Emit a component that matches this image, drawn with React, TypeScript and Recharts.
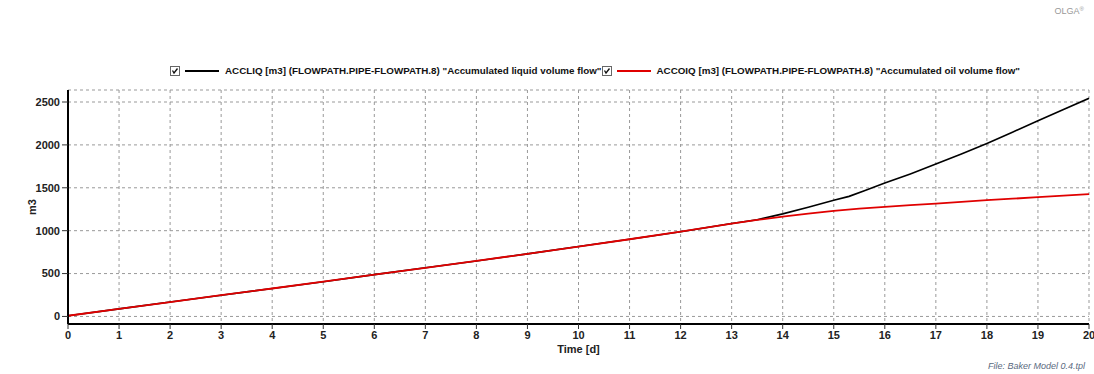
import React from "react";
import { LineChart, Line, XAxis, YAxis, CartesianGrid, Legend } from "recharts";

// time [d] and accumulated volumes [m3]
const liqTime = [0, 1, 2, 3, 4, 5, 6, 7, 8, 9, 10, 11, 12, 13, 13.5, 14, 14.5, 15, 15.3, 15.6, 16, 16.5, 17, 17.5, 18, 18.5, 19, 19.5, 20];
const liqVol = [8, 88, 168, 248, 326, 405, 488, 567, 647, 730, 815, 900, 988, 1083, 1128, 1196, 1274, 1355, 1400, 1465, 1555, 1662, 1776, 1893, 2017, 2148, 2282, 2412, 2543];

const oilTime = [0, 1, 2, 3, 4, 5, 6, 7, 8, 9, 10, 11, 12, 13, 13.5, 14, 14.5, 15, 15.5, 16, 16.5, 17, 17.5, 18, 18.5, 19, 19.5, 20];
const oilVol = [8, 88, 168, 248, 326, 405, 488, 567, 647, 730, 815, 900, 988, 1083, 1125, 1165, 1200, 1230, 1256, 1278, 1298, 1316, 1336, 1355, 1373, 1390, 1408, 1425];

const xTicks = [0, 1, 2, 3, 4, 5, 6, 7, 8, 9, 10, 11, 12, 13, 14, 15, 16, 17, 18, 19, 20];
const yTicks = [0, 500, 1000, 1500, 2000, 2500];

const seriesNames = [
    'ACCLIQ [m3] (FLOWPATH.PIPE-FLOWPATH.8) "Accumulated liquid volume flow"',
    'ACCOIQ [m3] (FLOWPATH.PIPE-FLOWPATH.8) "Accumulated oil volume flow"',
];
const seriesColors = ["#000000", "#e00000"];

const liqData = liqTime.map((t, i) => ({ t, v: liqVol[i] }));
const oilData = oilTime.map((t, i) => ({ t, v: oilVol[i] }));

const font = "'Liberation Sans', Arial, sans-serif";
const tickStyle = { fontFamily: font, fontSize: 11, fontWeight: 700, fill: "#222" };

const CheckBox = () => (
    <svg width={10} height={10} style={{ display: "block" }}>
        <rect x={0.5} y={0.5} width={9} height={9} fill="#fff" stroke="#666" />
        <path d="M2.5 4.5 L4 7 L7.5 2.5" fill="none" stroke="#111" strokeWidth={1.3} />
    </svg>
);

const renderLegend = () => (
    <div style={{ display: "flex", alignItems: "center", fontFamily: font, fontSize: 9.8, fontWeight: 700, color: "#111", whiteSpace: "nowrap" }}>
        {seriesNames.map((name, i) => (
            <div key={name} style={{ display: "flex", alignItems: "center" }}>
                <CheckBox />
                <div style={{ width: 34, height: 2, background: seriesColors[i], margin: "0 6px 0 5px" }} />
                <span>{name}</span>
            </div>
        ))}
    </div>
);

const App: React.FC = () => {
    return (
        <div style={{ position: "absolute", left: 0, top: 0, width: 1094, height: 374, background: "#fff" }}>
            <div style={{ position: "absolute", right: 10, top: 6, fontFamily: font, fontSize: 9, color: "#999" }}>
                OLGA<span style={{ fontSize: 6, verticalAlign: "top" }}>®</span>
            </div>
            <div style={{ position: "absolute", right: 9, top: 361, fontFamily: font, fontSize: 9, fontStyle: "italic", color: "#5a6a80" }}>
                File: Baker Model 0.4.tpl
            </div>
            <LineChart width={1094} height={374} margin={{ top: 90, right: 5, left: 8, bottom: 20 }}>
                <CartesianGrid stroke="#999" strokeDasharray="3 3" verticalValues={xTicks} />
                <XAxis
                    dataKey="t"
                    type="number"
                    domain={[0, 20]}
                    ticks={xTicks}
                    interval={0}
                    allowDataOverflow
                    height={30}
                    axisLine={{ stroke: "#000", strokeWidth: 2 }}
                    tickLine={{ stroke: "#333" }}
                    tickSize={5}
                    tick={tickStyle}
                    label={{ value: "Time [d]", position: "insideBottom", offset: 1, style: { fontFamily: font, fontSize: 11, fontWeight: 700, fill: "#222" } }}
                />
                <XAxis xAxisId="top" orientation="top" type="number" domain={[0, 20]} ticks={xTicks} tick={false} tickLine={false} height={0} axisLine={{ stroke: "#777" }} />
                <YAxis
                    type="number"
                    domain={[-88, 2640]}
                    ticks={yTicks}
                    allowDataOverflow
                    width={60}
                    axisLine={{ stroke: "#000", strokeWidth: 2 }}
                    tickLine={{ stroke: "#333" }}
                    tickSize={6}
                    tick={tickStyle}
                    label={{ value: "m3", angle: -90, position: "center", dx: -6, style: { fontFamily: font, fontSize: 11, fontWeight: 700, fill: "#222" } }}
                />
                <YAxis yAxisId="right" orientation="right" domain={[-88, 2640]} tick={false} tickLine={false} width={0} axisLine={{ stroke: "#777" }} />
                <Legend
                    verticalAlign="middle"
                    align="center"
                    content={renderLegend}
                    wrapperStyle={{ top: 65, left: 170, width: "auto" }}
                />
                <Line data={liqData} dataKey="v" name={seriesNames[0]} stroke={seriesColors[0]} strokeWidth={1.6} dot={false} isAnimationActive={false} />
                <Line data={oilData} dataKey="v" name={seriesNames[1]} stroke={seriesColors[1]} strokeWidth={1.8} dot={false} isAnimationActive={false} />
            </LineChart>
        </div>
    );
};

export default App;
